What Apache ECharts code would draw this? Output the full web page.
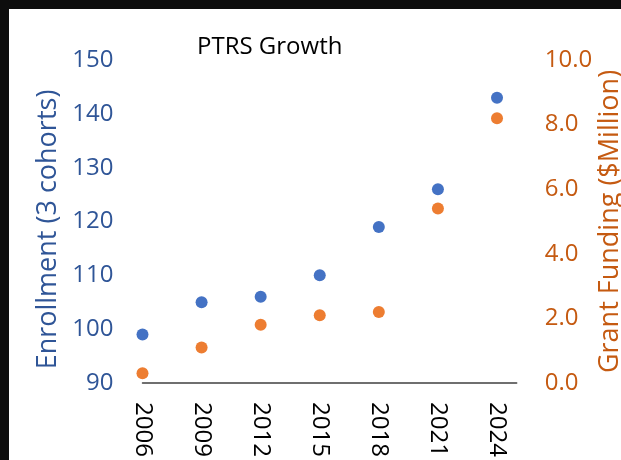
<!DOCTYPE html>
<html>
<head>
<meta charset="utf-8">
<script src="https://cdn.jsdelivr.net/npm/echarts@6/dist/echarts.min.js"></script>
<style>
html,body{margin:0;padding:0;background:#fff;}
#chart{width:621px;height:460px;}
</style>
</head>
<body>
<div id="chart"></div>
<script>
const years = [2006, 2009, 2012, 2015, 2018, 2021, 2024];
const enrollment = [99, 105, 106, 110, 119, 126, 143];
const funding = [0.3, 1.1, 1.8, 2.1, 2.2, 5.4, 8.2];
const title = 'PTRS Growth';
const leftName = 'Enrollment (3 cohorts)';
const rightName = 'Grant Funding ($Million)';

const FONT = 'Open Sans';
const BLUE = '#4472C4', BLUE_TXT = '#2F5597';
const ORANGE = '#ED7D31', ORANGE_TXT = '#C55A11';

const chart = echarts.init(document.getElementById('chart'));
chart.setOption({
  backgroundColor: '#ffffff',
  animation: false,
  title: {
    text: title, left: 192, top: 30,
    textStyle: {fontFamily: FONT, fontSize: 24, fontWeight: 'normal', color: '#000'}
  },
  graphic: [
    {type: 'rect', shape: {x: 0, y: 0, width: 621, height: 9}, style: {fill: '#0d0d0d'}, z: 100},
    {type: 'rect', shape: {x: 0, y: 0, width: 9, height: 460}, style: {fill: '#0d0d0d'}, z: 100}
  ],
  grid: {left: 142.5, right: 104.3, top: 60, bottom: 77, outerBoundsMode: 'none', containLabel: false},
  xAxis: {
    type: 'value', min: 2006, max: 2025,
    axisLine: {show: true, lineStyle: {color: '#404040', width: 1.5}},
    axisTick: {show: false},
    splitLine: {show: false},
    axisLabel: {
      customValues: years, rotate: -90, margin: 19,
      fontFamily: FONT, fontSize: 24, color: '#000',
      formatter: v => String(v)
    }
  },
  yAxis: [
    {
      type: 'value', min: 90, max: 150, interval: 10, position: 'left',
      name: leftName, nameLocation: 'middle', nameRotate: 90, nameGap: 81,
      nameMoveOverlap: false,
      nameTextStyle: {fontFamily: FONT, fontSize: 27, color: BLUE_TXT, padding: [0, 16, 0, 0]},
      axisLine: {show: false}, axisTick: {show: false}, splitLine: {show: false},
      axisLabel: {margin: 29, fontFamily: FONT, fontSize: 24, color: BLUE_TXT}
    },
    {
      type: 'value', min: 0, max: 10, interval: 2, position: 'right',
      name: rightName, nameLocation: 'middle', nameRotate: 90, nameGap: 80,
      nameMoveOverlap: false,
      nameTextStyle: {fontFamily: FONT, fontSize: 27, color: ORANGE_TXT},
      axisLine: {show: false}, axisTick: {show: false}, splitLine: {show: false},
      axisLabel: {margin: 28, fontFamily: FONT, fontSize: 24, color: ORANGE_TXT,
        formatter: v => v.toFixed(1)}
    }
  ],
  series: [
    {
      name: 'Enrollment', type: 'scatter', yAxisIndex: 0, symbolSize: 12,
      itemStyle: {color: BLUE, opacity: 1},
      data: years.map((y, i) => [y, enrollment[i]])
    },
    {
      name: 'Funding', type: 'scatter', yAxisIndex: 1, symbolSize: 12,
      itemStyle: {color: ORANGE, opacity: 1},
      data: years.map((y, i) => [y, funding[i]])
    }
  ]
});
</script>
</body>
</html>
